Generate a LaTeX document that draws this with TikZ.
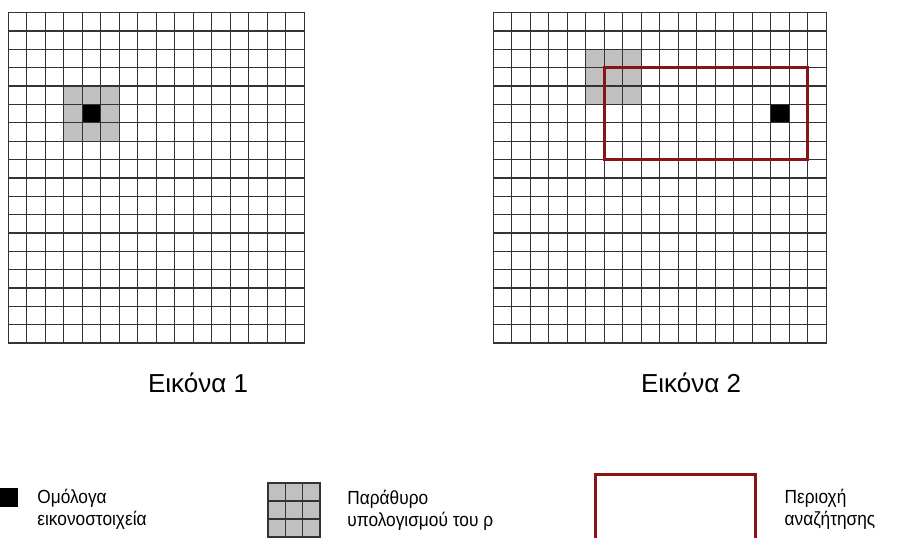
\documentclass[tikz,border=0pt]{standalone}
\usepackage{fontspec}
\setmainfont{Liberation Sans}
\newfontfamily\legfont[FakeStretch=0.91]{Liberation Sans}
\usepackage{tikz}
\usetikzlibrary{positioning}
\definecolor{areared}{RGB}{136,20,24}
\definecolor{wingray}{RGB}{192,192,192}
\tikzstyle{caption} = [font=\fontsize{26}{30}\selectfont, inner sep=0pt]
\tikzstyle{legtext} = [font=\legfont\fontsize{19}{22}\selectfont, align=left, inner sep=0pt]
\tikzstyle{cellline} = [draw=black!80, line width=1.3pt, line cap=rect]
\tikzstyle{pixel} = [fill=black]
\tikzstyle{window} = [fill=wingray]
\tikzstyle{area} = [draw=areared, line width=3pt]

\begin{document}
\begin{tikzpicture}[x=1pt, y=-1pt]
\clip (0,0) rectangle (897,538);
\fill [white] (0,0) rectangle (897,538);

% Eikona 1
\begin{scope}[shift={(8.3,12.7)}, x=18.5pt, y=-18.35pt]
\fill [window] (3,4) rectangle (6,7);
\fill [pixel] (4,5) rectangle (5,6);
\foreach \i in {0,...,16} \draw [cellline] (\i,0) -- (\i,18);
\foreach \j in {0,...,18} \draw [cellline] (0,\j) -- (16,\j);
\end{scope}

% Eikona 2
\begin{scope}[shift={(493.3,12.7)}, x=18.5pt, y=-18.35pt]
\fill [window] (5,2) rectangle (8,5);
\fill [pixel] (15,5) rectangle (16,6);
\foreach \i in {0,...,18} \draw [cellline] (\i,0) -- (\i,18);
\foreach \j in {0,...,18} \draw [cellline] (0,\j) -- (18,\j);
\draw [area] (6,3) rectangle (17,8);
\end{scope}

\node (cap1) [caption, anchor=base] at (198,392) {Εικόνα 1};
\node (cap2) [caption, anchor=base] at (691,392) {Εικόνα 2};

% legend
\node (keypixel) [pixel, minimum size=19pt, inner sep=0pt] at (8.5,497) {};
\node (txtpixel) [legtext, right=19pt of keypixel, yshift=-12pt] {Ομόλογα\\εικονοστοιχεία};

\node (keywin) [window, minimum width=52pt, minimum height=54pt, inner sep=0pt] at (294,510) {};
\begin{scope}[shift={(268,483)}, x=17.33pt, y=-18pt]
\foreach \i in {0,...,3} \draw [cellline] (\i,0) -- (\i,3);
\foreach \j in {0,...,3} \draw [cellline] (0,\j) -- (3,\j);
\end{scope}
\node (txtwin) [legtext, right=27pt of keywin] {Παράθυρο\\υπολογισμού του ρ};

\node (keyarea) [area, minimum width=160pt, minimum height=90pt, inner sep=0pt] at (675,519) {};
\node (txtarea) [legtext, right=28pt of keyarea, yshift=10pt] {Περιοχή\\αναζήτησης};
\end{tikzpicture}
\end{document}
